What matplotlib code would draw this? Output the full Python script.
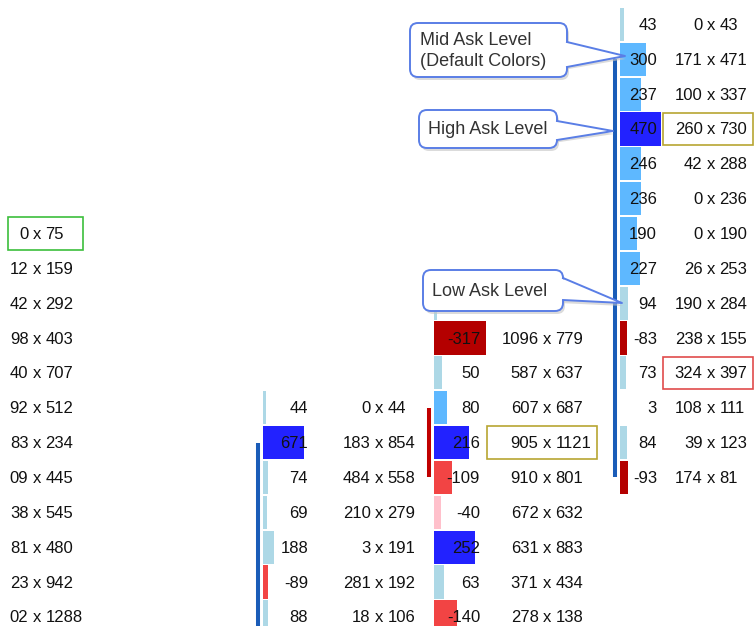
import matplotlib
matplotlib.use('Agg')
import matplotlib.pyplot as plt
from matplotlib.patches import FancyBboxPatch, Polygon, Rectangle
from matplotlib.transforms import Bbox

plt.rcParams['font.family'] = ['Liberation Sans', 'DejaVu Sans']

# --- data: footprint columns, rows counted from the top of the view ---
# column 0: only bid x ask is visible, bids are cut off at the left edge
c0_first_row = 6
c0_bid = ["0", "12", "42", "98", "40", "92", "83", "09", "38", "81", "23", "02"]
c0_ask = [75, 159, 292, 403, 707, 512, 234, 445, 545, 480, 942, 1288]

c1_first_row = 11
c1_delta = [44, 671, 74, 69, 188, -89, 88]
c1_bid = [0, 183, 484, 210, 3, 281, 18]
c1_ask = [44, 854, 558, 279, 191, 192, 106]
c1_level = [0, 2, 0, 0, 0, 1, 0]

# first row of column 2 sits under the "Low Ask Level" callout:
# only a sliver of its bar shows, its numbers are hidden (None)
c2_first_row = 8
c2_delta = [18, -317, 50, 80, 216, -109, -40, 252, 63, -140]
c2_bid = [None, 1096, 587, 607, 905, 910, 672, 631, 371, 278]
c2_ask = [None, 779, 637, 687, 1121, 801, 632, 883, 434, 138]
c2_level = [0, 2, 0, 1, 2, 1, 0, 2, 0, 1]

c3_first_row = 0
c3_delta = [43, 300, 237, 470, 246, 236, 190, 227, 94, -83, 73, 3, 84, -93]
c3_bid = [0, 171, 100, 260, 42, 0, 0, 26, 190, 238, 324, 108, 39, 174]
c3_ask = [43, 471, 337, 730, 288, 236, 190, 253, 284, 155, 397, 111, 123, 81]
c3_level = [0, 1, 1, 2, 1, 1, 1, 1, 0, 2, 0, 0, 0, 2]

# open / close rows of the thin candle line next to each column
c1_candle = (19, 12)
c2_candle = (11, 13)
c3_candle = (13, 1)

# highlighted cells: (column, row, colour)
boxes = [(0, 6, '#3cbf3c'), (2, 12, '#b8a532'), (3, 3, '#b8a532'), (3, 10, '#e04b4b')]

# --- layout / style ---
W, H = 754, 626
ROW_PX = 34.85
ROW0_PX = 24.4
POS = ['#add8e6', '#5eb8ff', '#2222ff']
NEG = ['#ffc0cb', '#f24444', '#b40000']
TXT = '#111111'
FS = 12
GAP = 8.5

layout = {
    0: dict(bar_left=-80, bar_px=41, delta_right=-35, x_mid=37, box=(8, 83)),
    1: dict(bar_left=263, bar_px=41, delta_right=308, x_mid=379, box=(316, 426)),
    2: dict(bar_left=434, bar_px=52, delta_right=480, x_mid=547, box=(487, 597)),
    3: dict(bar_left=620, bar_px=41, delta_right=657, x_mid=711, box=(663, 753)),
}

fig = plt.figure(figsize=(W / 100, H / 100), dpi=100)
ax = fig.add_axes([0, 0, 1, 1])
ax.set_xlim(0, W)
ax.set_ylim((H - ROW0_PX) / ROW_PX, -ROW0_PX / ROW_PX)
ax.axis('off')

clip0 = Bbox.from_extents(8, 0, W, H)


def draw_column(col, first_row, bid, ask, delta=None, level=None, candle=None):
    lay = layout[col]
    rows = [first_row + i for i in range(len(bid))]
    if delta is not None:
        scale = lay['bar_px'] / max(abs(d) for d in delta)
        colors = [(POS if d >= 0 else NEG)[lv] for d, lv in zip(delta, level)]
        ax.barh(rows, [abs(d) * scale for d in delta], left=lay['bar_left'],
                height=0.95, color=colors, zorder=2)
        for r, d, b in zip(rows, delta, bid):
            if b is None:
                continue
            ax.text(lay['delta_right'], r + 0.03, str(d), ha='right', va='center',
                    fontsize=FS, color=TXT, zorder=3)
    xm = lay['x_mid']
    for r, b, a in zip(rows, bid, ask):
        if b is None:
            continue
        parts = [ax.text(xm - GAP, r + 0.03, str(b), ha='right', va='center',
                         fontsize=FS, color=TXT, zorder=3),
                 ax.text(xm, r + 0.03, 'x', ha='center', va='center',
                         fontsize=FS, color=TXT, zorder=3),
                 ax.text(xm + GAP, r + 0.03, str(a), ha='left', va='center',
                         fontsize=FS, color=TXT, zorder=3)]
        if col == 0:
            for t in parts:
                t.set_clip_on(True)
                t.set_clip_box(clip0)
    if candle is not None:
        o, c = candle
        ax.plot([lay['bar_left'] - 5] * 2, [o, c],
                color='#c00000' if c > o else '#1a5cb8', lw=2.9,
                solid_capstyle='butt', zorder=2)


draw_column(0, c0_first_row, c0_bid, c0_ask)
draw_column(1, c1_first_row, c1_bid, c1_ask, c1_delta, c1_level, c1_candle)
draw_column(2, c2_first_row, c2_bid, c2_ask, c2_delta, c2_level, c2_candle)
draw_column(3, c3_first_row, c3_bid, c3_ask, c3_delta, c3_level, c3_candle)

for col, row, color in boxes:
    l, r = layout[col]['box']
    ax.add_patch(Rectangle((l, row - 0.47), r - l, 0.94, fill=False,
                           ec=color, lw=1.2, zorder=4))

# --- callouts, drawn in pixel coordinates on top ---
ov = fig.add_axes([0, 0, 1, 1], zorder=5)
ov.set_xlim(0, W)
ov.set_ylim(H, 0)
ov.axis('off')
EDGE = '#5a7ee6'


def callout(x0, y0, x1, y1, by0, by1, tip, label, tx, ty):
    w, h = x1 - x0, y1 - y0
    ov.add_patch(FancyBboxPatch((x0 + 2, y0 + 3), w, h,
                                boxstyle='round,pad=0,rounding_size=8',
                                fc='#c4c4c4', ec='none', alpha=0.6))
    ov.add_patch(Polygon([(x1 - 4, by0 + 3), (tip[0] + 1, tip[1] + 3), (x1 - 4, by1 + 3)],
                         closed=True, fc='#c4c4c4', ec='none', alpha=0.6))
    ov.add_patch(FancyBboxPatch((x0, y0), w, h,
                                boxstyle='round,pad=0,rounding_size=8',
                                fc='white', ec=EDGE, lw=1.4))
    ov.add_patch(Polygon([(x1 - 3, by0), tip, (x1 - 3, by1)],
                         closed=True, fc='white', ec='none'))
    ov.plot([x1, tip[0], x1], [by0, tip[1], by1], color=EDGE, lw=1.4)
    ov.text(tx, ty, label, ha='left', va='center', fontsize=13,
            color='#333333', linespacing=1.3)


callout(410, 23, 567, 77, 42, 67, (625, 56), 'Mid Ask Level\n(Default Colors)', 420, 51)
callout(419, 110, 557, 148, 121, 140, (613, 131), 'High Ask Level', 428, 130)
callout(423, 270, 563, 311, 278, 300, (622, 303), 'Low Ask Level', 432, 292)

fig.savefig('out.png', dpi=100, facecolor='white')
